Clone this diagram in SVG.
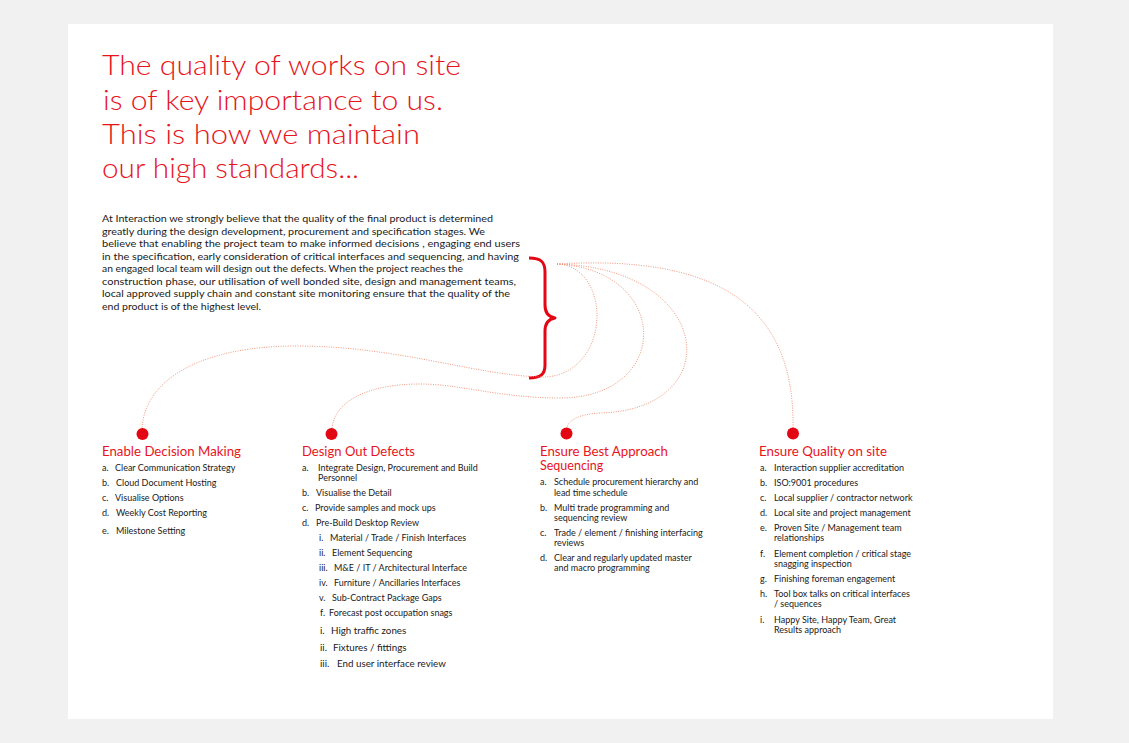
<svg xmlns="http://www.w3.org/2000/svg" width="1129" height="743" viewBox="0 0 1129 743">
<defs>
<style>
.title{font-family:Lato,"Open Sans","Liberation Sans",sans-serif;font-weight:300;font-size:28px;fill:#e8141c}
.para{font-family:Lato,"Open Sans","Liberation Sans",sans-serif;font-size:9.5px;fill:#1a1a1a}
.head{font-family:Lato,"Open Sans","Liberation Sans",sans-serif;font-size:12.5px;fill:#e8141c}
.item{font-family:Lato,"Open Sans","Liberation Sans",sans-serif;font-size:9px;fill:#1a1a1a}
.item2{font-family:Lato,"Open Sans","Liberation Sans",sans-serif;font-size:9.8px;fill:#1a1a1a}
.dot{fill:#e30613}
.conn{fill:none;stroke:#ef8a6e;stroke-width:0.9;stroke-dasharray:1 1.4}
.brace{fill:none;stroke:#e30613;stroke-width:3;stroke-linejoin:round}
</style>
</defs>
<rect x="0" y="0" width="1129" height="743" fill="#f1f1f1"/>
<rect x="68" y="24" width="985" height="695" fill="#ffffff"/>

<g id="title">
<text class="title" x="102" y="75" textLength="359" lengthAdjust="spacingAndGlyphs">The quality of works on site</text>
<text class="title" x="103" y="110" textLength="340" lengthAdjust="spacingAndGlyphs">is of key importance to us.</text>
<text class="title" x="102" y="144" textLength="318" lengthAdjust="spacingAndGlyphs">This is how we maintain</text>
<text class="title" x="102" y="178" textLength="257" lengthAdjust="spacingAndGlyphs">our high standards...</text>
</g>

<g id="intro">
<text class="para" x="102" y="222" textLength="391" lengthAdjust="spacingAndGlyphs">At Interaction we strongly believe that the quality of the final product is determined</text>
<text class="para" x="102" y="234.5" textLength="383" lengthAdjust="spacingAndGlyphs">greatly during the design development, procurement and specification stages. We</text>
<text class="para" x="102" y="247" textLength="418" lengthAdjust="spacingAndGlyphs">believe that enabling the project team to make informed decisions , engaging end users</text>
<text class="para" x="102" y="259.5" textLength="417" lengthAdjust="spacingAndGlyphs">in the specification, early consideration of critical interfaces and sequencing, and having</text>
<text class="para" x="102" y="272" textLength="361" lengthAdjust="spacingAndGlyphs">an engaged local team will design out the defects. When the project reaches the</text>
<text class="para" x="102" y="284.5" textLength="414" lengthAdjust="spacingAndGlyphs">construction phase, our utilisation of well bonded site, design and management teams,</text>
<text class="para" x="102" y="297" textLength="408" lengthAdjust="spacingAndGlyphs">local approved supply chain and constant site monitoring ensure that the quality of the</text>
<text class="para" x="102" y="309.5" textLength="159" lengthAdjust="spacingAndGlyphs">end product is of the highest level.</text>
</g>

<g id="brace">
<path class="brace" d="M529,258 C541,258 545,262 545,272 L545,305 C545,313 549,317 555,318 C549,319 545,323 545,331 L545,365 C545,374 541,378 529,378"/>
</g>

<g id="connectors">
<path class="conn" d="M557,264 C612,266 612,372 546,377 C480,377 400,346 297,346 C200,346 145,380 142,428"/>
<path class="conn" d="M557,264 C672,270 672,398 560,398 C500,398 460,384 420,384 C370,384 335,400 332,428"/>
<path class="conn" d="M557,264 C715,268 728,410 600,413 C580,414 568,420 567,428"/>
<path class="conn" d="M557,264 C710,255 795,300 793,428"/>
</g>

<g id="col-decision">
<circle class="dot" cx="142.5" cy="434" r="6"/>
<text class="head" x="102" y="456" textLength="139" lengthAdjust="spacingAndGlyphs">Enable Decision Making</text>
<text class="item" x="102" y="471">a.</text><text class="item" x="115" y="471">Clear Communication Strategy</text>
<text class="item" x="102" y="486">b.</text><text class="item" x="116" y="486">Cloud Document Hosting</text>
<text class="item" x="102" y="500.5">c.</text><text class="item" x="115" y="500.5">Visualise Options</text>
<text class="item" x="102" y="515.5">d.</text><text class="item" x="116" y="515.5">Weekly Cost Reporting</text>
<text class="item" x="102" y="533.5">e.</text><text class="item" x="116" y="533.5">Milestone Setting</text>
</g>

<g id="col-defects">
<circle class="dot" cx="331.5" cy="434" r="6"/>
<text class="head" x="302" y="456" textLength="113" lengthAdjust="spacingAndGlyphs">Design Out Defects</text>
<text class="item" x="302" y="471">a.</text><text class="item" x="318" y="471">Integrate Design, Procurement and Build</text>
<text class="item" x="318" y="481">Personnel</text>
<text class="item" x="302" y="495.5">b.</text><text class="item" x="316" y="495.5">Visualise the Detail</text>
<text class="item" x="302" y="510.5">c.</text><text class="item" x="315" y="510.5">Provide samples and mock ups</text>
<text class="item" x="302" y="526">d.</text><text class="item" x="316" y="526">Pre-Build Desktop Review</text>
<text class="item" x="319" y="541">i.</text><text class="item" x="330" y="541">Material / Trade / Finish Interfaces</text>
<text class="item" x="319" y="556">ii.</text><text class="item" x="332" y="556">Element Sequencing</text>
<text class="item" x="319" y="571">iii.</text><text class="item" x="334" y="571">M&amp;E / IT / Architectural Interface</text>
<text class="item" x="319" y="586">iv.</text><text class="item" x="334" y="586">Furniture / Ancillaries Interfaces</text>
<text class="item" x="319" y="601">v.</text><text class="item" x="332" y="601">Sub-Contract Package Gaps</text>
<text class="item" x="320" y="616">f.</text><text class="item" x="329" y="616">Forecast post occupation snags</text>
<text class="item2" x="320" y="633.5">i.</text><text class="item2" x="331" y="633.5">High traffic zones</text>
<text class="item2" x="320" y="650.5">ii.</text><text class="item2" x="333" y="650.5">Fixtures / fittings</text>
<text class="item2" x="320" y="667">iii.</text><text class="item2" x="337" y="667">End user interface review</text>
</g>

<g id="col-sequencing">
<circle class="dot" cx="566.5" cy="433.5" r="6"/>
<text class="head" x="540" y="456" textLength="128" lengthAdjust="spacingAndGlyphs">Ensure Best Approach</text>
<text class="head" x="540" y="470">Sequencing</text>
<text class="item" x="540" y="485">a.</text><text class="item" x="554" y="485">Schedule procurement hierarchy and</text>
<text class="item" x="554" y="495.5">lead time schedule</text>
<text class="item" x="540" y="511">b.</text><text class="item" x="554" y="511">Multi trade programming and</text>
<text class="item" x="554" y="521">sequencing review</text>
<text class="item" x="540" y="536">c.</text><text class="item" x="554" y="536">Trade / element / finishing interfacing</text>
<text class="item" x="554" y="546">reviews</text>
<text class="item" x="540" y="561">d.</text><text class="item" x="554" y="561">Clear and regularly updated master</text>
<text class="item" x="554" y="571">and macro programming</text>
</g>

<g id="col-quality">
<circle class="dot" cx="793" cy="433.5" r="6"/>
<text class="head" x="759" y="456" textLength="128" lengthAdjust="spacingAndGlyphs">Ensure Quality on site</text>
<text class="item" x="760" y="471">a.</text><text class="item" x="774" y="471">Interaction supplier accreditation</text>
<text class="item" x="760" y="486">b.</text><text class="item" x="774" y="486">ISO:9001 procedures</text>
<text class="item" x="760" y="501">c.</text><text class="item" x="774" y="501">Local supplier / contractor network</text>
<text class="item" x="760" y="515.5">d.</text><text class="item" x="774" y="515.5">Local site and project management</text>
<text class="item" x="760" y="531">e.</text><text class="item" x="774" y="531">Proven Site / Management team</text>
<text class="item" x="774" y="541">relationships</text>
<text class="item" x="760" y="557">f.</text><text class="item" x="774" y="557">Element completion / critical stage</text>
<text class="item" x="774" y="567">snagging inspection</text>
<text class="item" x="760" y="582">g.</text><text class="item" x="774" y="582">Finishing foreman engagement</text>
<text class="item" x="760" y="597">h.</text><text class="item" x="774" y="597">Tool box talks on critical interfaces</text>
<text class="item" x="774" y="607">/ sequences</text>
<text class="item" x="760" y="623">i.</text><text class="item" x="774" y="623">Happy Site, Happy Team, Great</text>
<text class="item" x="774" y="633">Results approach</text>
</g>
</svg>
